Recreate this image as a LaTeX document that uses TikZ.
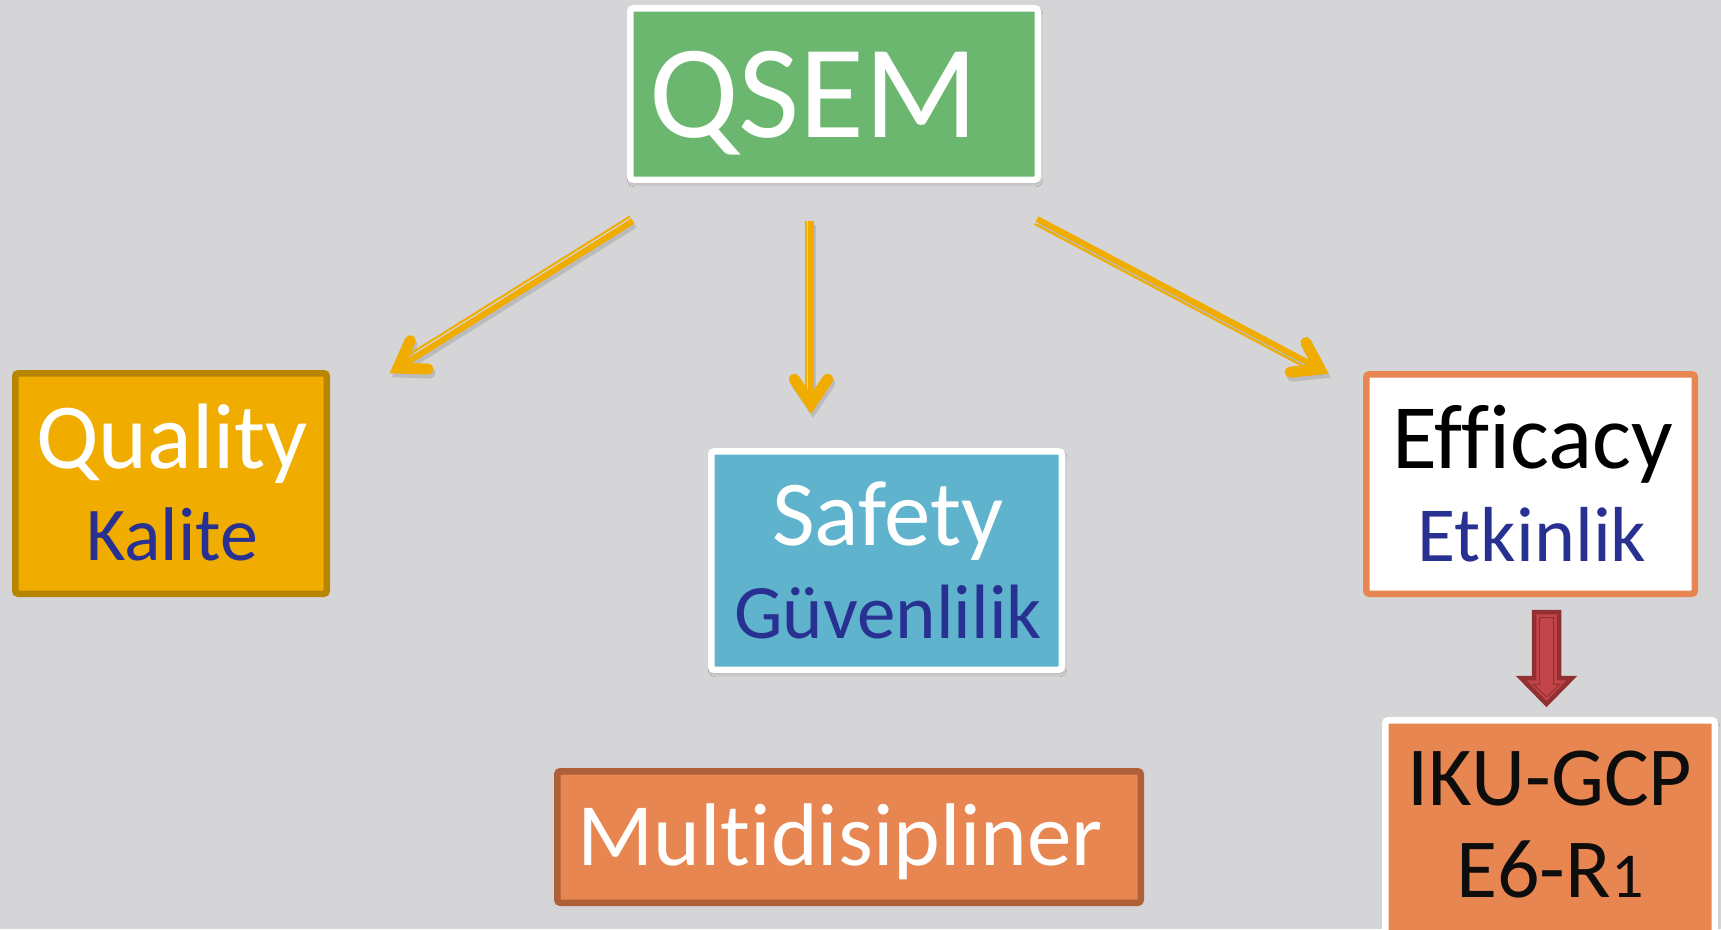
\documentclass[tikz,border=0pt]{standalone}
\usepackage{fontspec}
\setmainfont{Carlito}
\usetikzlibrary{calc,shadows.blur}
\definecolor{bgc}{RGB}{213,213,215}
\definecolor{qgreen}{RGB}{108,183,112}
\definecolor{qgold}{RGB}{240,173,0}
\definecolor{qgolddark}{RGB}{184,133,0}
\definecolor{qblue}{RGB}{96,179,204}
\definecolor{qorange}{RGB}{232,134,82}
\definecolor{qbrown}{RGB}{174,96,57}
\definecolor{qnavy}{RGB}{40,48,146}
\definecolor{qblack}{RGB}{13,13,13}
\definecolor{qred}{RGB}{194,70,73}
\definecolor{qreddark}{RGB}{146,47,51}
\tikzset{
  boxframe/.style={draw=#1, line width=6.5pt, rounded corners=3pt, inner sep=0pt},
  innerline/.style={draw=#1, line width=1.6pt},
  shadowed/.style={blur shadow={shadow xshift=1pt, shadow yshift=-3pt, shadow blur radius=4pt, shadow opacity=30}},
  txt/.style={anchor=base, inner sep=0pt},
  arrowline/.style={draw=qgold, line width=6pt},
  thinline/.style={draw=qgold, line width=2pt},
  chev/.style={draw=qgold, line width=11pt, line cap=round, line join=miter},
  arrshadow/.style={draw=black, opacity=0.12, transform canvas={shift={(2pt,-4pt)}}},
}
\begin{document}
\begin{tikzpicture}[x=1pt,y=-1pt]
\clip (0,0) rectangle (1721,929);
\fill[bgc] (0,0) rectangle (1721,929);

% boxes
\node[boxframe=white, fill=qgreen, shadowed, minimum width=407.5, minimum height=171.5] (qsem) at (834,94) {};
\draw[innerline=white] ([shift={(5.5,5.5)}]qsem.north west) rectangle ([shift={(-5.5,-5.5)}]qsem.south east);

\node[boxframe=qgolddark, fill=qgold, minimum width=311.5, minimum height=220.5] (qual) at (171,483.5) {};
\draw[innerline=qgolddark] ([shift={(5.5,5.5)}]qual.north west) rectangle ([shift={(-5.5,-5.5)}]qual.south east);

\node[boxframe=white, fill=qblue, shadowed, minimum width=350.5, minimum height=218.5] (safe) at (886.5,560.5) {};
\draw[innerline=white] ([shift={(5.5,5.5)}]safe.north west) rectangle ([shift={(-5.5,-5.5)}]safe.south east);

\node[boxframe=qorange, fill=white, minimum width=328.5, minimum height=219.5] (eff) at (1530.5,484) {};
\draw[innerline=qorange] ([shift={(5.5,5.5)}]eff.north west) rectangle ([shift={(-5.5,-5.5)}]eff.south east);

\node[boxframe=white, fill=qorange, shadowed, minimum width=329.5, minimum height=216.5] (iku) at (1550,828.5) {};
\draw[innerline=white] ([shift={(5.5,5.5)}]iku.north west) rectangle ([shift={(-5.5,-5.5)}]iku.south east);

\node[boxframe=qbrown, fill=qorange, minimum width=583.5, minimum height=131.5] (multi) at (849,837) {};
\draw[innerline=qbrown] ([shift={(5.5,5.5)}]multi.north west) rectangle ([shift={(-5.5,-5.5)}]multi.south east);

% texts
\node[txt, text=white, font=\fontsize{133}{133}\selectfont] (qsemt) at (814,137) {QSEM};
\node[txt, text=white, font=\fontsize{93}{93}\selectfont] (qualt) at (172,468) {Quality};
\node[txt, text=qnavy, font=\fontsize{76}{76}\selectfont] (kalt) at (172,560) {Kalite};
\node[txt, text=white, font=\fontsize{93}{93}\selectfont] (safet) at (888,545) {Safety};
\node[txt, text=qnavy, font=\fontsize{77}{77}\selectfont] (guvt) at (888,638) {Güvenlilik};
\node[txt, text=black, font=\fontsize{92}{92}\selectfont\addfontfeatures{Ligatures=NoCommon}] (efft) at (1533,468) {Efficacy};
\node[txt, text=qnavy, font=\fontsize{78}{78}\selectfont] (etkt) at (1532,561) {Etkinlik};
\node[txt, text=qblack, font=\fontsize{84}{84}\selectfont] (ikut) at (1550,805) {IKU-GCP};
\node[txt, text=qblack, font=\fontsize{84}{84}\selectfont] (e6t) at (1550,897) {E6-R{\fontsize{64}{64}\selectfont 1}};
\node[txt, text=white, font=\fontsize{89}{89}\selectfont\addfontfeatures{Ligatures=NoCommon}] (multit) at (840.5,865) {Multidisipliner};

% gold arrows
\coordinate (a1s) at (633,221);
\coordinate (a1e) at (398,368);
\coordinate (a2s) at (811,221);
\coordinate (a2e) at (811,404);
\coordinate (a3s) at (1037,219);
\coordinate (a3e) at (1320,369);

\foreach \s/\e in {a1s/a1e, a2s/a2e, a3s/a3e}{
  \draw[arrowline, arrshadow] (\s) -- (\e);
  \draw[chev, arrshadow] ($(\e)!30pt!34:(\s)$) -- (\e) -- ($(\e)!30pt!-34:(\s)$);
}
\foreach \s/\e in {a1s/a1e, a2s/a2e, a3s/a3e}{
  \draw[arrowline] (\s) -- (\e);
  \draw[thinline] ($(\s)!5.5pt!-90:(\e)$) -- ($(\e)!5.5pt!90:(\s)$);
  \draw[chev] ($(\e)!30pt!34:(\s)$) -- (\e) -- ($(\e)!30pt!-34:(\s)$);
}

% red block arrow
\filldraw[fill=qred, draw=qreddark, line width=4.5pt, line join=miter]
  (1534,612) -- (1559,612) -- (1559,678) -- (1572,678) -- (1546.5,704) -- (1521,678) -- (1534,678) -- cycle;
\draw[draw=qreddark, line width=1pt]
  (1539.5,617.5) -- (1553.5,617.5) -- (1553.5,684) -- (1560,684) -- (1546.5,697) -- (1533,684) -- (1539.5,684) -- cycle;
\end{tikzpicture}
\end{document}
